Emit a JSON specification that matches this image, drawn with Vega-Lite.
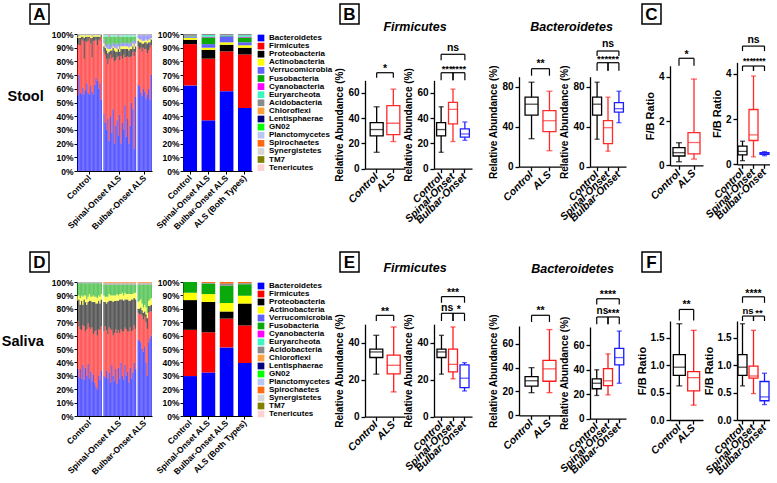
{
"$schema": "https://vega.github.io/schema/vega-lite/v6.json",
"padding": {"left": 0, "top": 3, "right": 0, "bottom": 0},
"background": "white",
"config": {
  "font": "Liberation Sans",
  "view": {"stroke": null},
  "axis": {"grid": false, "domainColor": "#000", "domainWidth": 1.3, "tickColor": "#000", "tickWidth": 1.3, "tickSize": 4, "labelColor": "#000", "labelFont": "Liberation Sans", "labelFontWeight": "bold", "labelFontSize": 10, "labelPadding": 2, "labelOverlap": false, "titleColor": "#000", "titleFont": "Liberation Sans", "titleFontWeight": "bold", "titleFontSize": 10, "titlePadding": 3},
  "axisX": {"labelAngle": -45, "labelAlign": "right", "labelBaseline": "middle", "labelFontStyle": "italic", "labelFontSize": 10.5},
  "title": {"font": "Liberation Sans", "fontSize": 12.5, "fontStyle": "italic", "fontWeight": "bold", "color": "#000", "anchor": "middle", "frame": "group"}
},
"datasets": {
  "stoolS": [
    {"id":"c1","Bacteroidetes":55,"Firmicutes":38,"Proteobacteria":4,"Actinobacteria":1,"Verrucomicrobia":0,"Fusobacteria":0,"Cyanobacteria":0,"Euryarcheota":0,"Acidobacteria":2},
    {"id":"c2","Bacteroidetes":70,"Firmicutes":22,"Proteobacteria":5,"Actinobacteria":1,"Verrucomicrobia":0,"Fusobacteria":0,"Cyanobacteria":0,"Euryarcheota":0,"Acidobacteria":2},
    {"id":"c3","Bacteroidetes":57,"Firmicutes":35,"Proteobacteria":5,"Actinobacteria":2,"Verrucomicrobia":0,"Fusobacteria":0,"Cyanobacteria":0,"Euryarcheota":0,"Acidobacteria":1},
    {"id":"c4","Bacteroidetes":56,"Firmicutes":40,"Proteobacteria":2,"Actinobacteria":1,"Verrucomicrobia":0,"Fusobacteria":0,"Cyanobacteria":0,"Euryarcheota":0,"Acidobacteria":1},
    {"id":"c5","Bacteroidetes":61,"Firmicutes":34,"Proteobacteria":3,"Actinobacteria":1,"Verrucomicrobia":0,"Fusobacteria":0,"Cyanobacteria":0,"Euryarcheota":0,"Acidobacteria":1},
    {"id":"c6","Bacteroidetes":56,"Firmicutes":26,"Proteobacteria":15,"Actinobacteria":2,"Verrucomicrobia":0,"Fusobacteria":0,"Cyanobacteria":0,"Euryarcheota":0,"Acidobacteria":1},
    {"id":"c7","Bacteroidetes":59,"Firmicutes":36,"Proteobacteria":3,"Actinobacteria":1,"Verrucomicrobia":0,"Fusobacteria":0,"Cyanobacteria":0,"Euryarcheota":0,"Acidobacteria":1},
    {"id":"c8","Bacteroidetes":64,"Firmicutes":30,"Proteobacteria":4,"Actinobacteria":1,"Verrucomicrobia":0,"Fusobacteria":0,"Cyanobacteria":0,"Euryarcheota":0,"Acidobacteria":1},
    {"id":"c9","Bacteroidetes":57,"Firmicutes":38,"Proteobacteria":3,"Actinobacteria":1,"Verrucomicrobia":0,"Fusobacteria":0,"Cyanobacteria":0,"Euryarcheota":0,"Acidobacteria":1},
    {"id":"c10","Bacteroidetes":56,"Firmicutes":41,"Proteobacteria":1,"Actinobacteria":1,"Verrucomicrobia":0,"Fusobacteria":0,"Cyanobacteria":0,"Euryarcheota":0,"Acidobacteria":1},
    {"id":"c11","Bacteroidetes":62,"Firmicutes":31,"Proteobacteria":4,"Actinobacteria":2,"Verrucomicrobia":0,"Fusobacteria":0,"Cyanobacteria":0,"Euryarcheota":0,"Acidobacteria":1},
    {"id":"c12","Bacteroidetes":58,"Firmicutes":25,"Proteobacteria":14,"Actinobacteria":1,"Verrucomicrobia":0,"Fusobacteria":0,"Cyanobacteria":0,"Euryarcheota":0,"Acidobacteria":2},
    {"id":"c13","Bacteroidetes":56,"Firmicutes":39,"Proteobacteria":3,"Actinobacteria":1,"Verrucomicrobia":0,"Fusobacteria":0,"Cyanobacteria":0,"Euryarcheota":0,"Acidobacteria":1},
    {"id":"c14","Bacteroidetes":63,"Firmicutes":32,"Proteobacteria":3,"Actinobacteria":1,"Verrucomicrobia":0,"Fusobacteria":0,"Cyanobacteria":0,"Euryarcheota":0,"Acidobacteria":1},
    {"id":"c15","Bacteroidetes":68,"Firmicutes":28,"Proteobacteria":2,"Actinobacteria":1,"Verrucomicrobia":0,"Fusobacteria":0,"Cyanobacteria":0,"Euryarcheota":0,"Acidobacteria":1},
    {"id":"c16","Bacteroidetes":66,"Firmicutes":26,"Proteobacteria":6,"Actinobacteria":1,"Verrucomicrobia":0,"Fusobacteria":0,"Cyanobacteria":0,"Euryarcheota":0,"Acidobacteria":1},
    {"id":"c17","Bacteroidetes":60,"Firmicutes":36,"Proteobacteria":2,"Actinobacteria":1,"Verrucomicrobia":0,"Fusobacteria":0,"Cyanobacteria":0,"Euryarcheota":0,"Acidobacteria":1},
    {"id":"c18","Bacteroidetes":64,"Firmicutes":31,"Proteobacteria":3,"Actinobacteria":1,"Verrucomicrobia":0,"Fusobacteria":0,"Cyanobacteria":0,"Euryarcheota":0,"Acidobacteria":1},
    {"id":"c19","Bacteroidetes":52,"Firmicutes":46,"Proteobacteria":1,"Actinobacteria":0,"Verrucomicrobia":0,"Fusobacteria":0,"Cyanobacteria":0,"Euryarcheota":0,"Acidobacteria":1},
    {"id":"s1","Bacteroidetes":42,"Firmicutes":45,"Proteobacteria":4,"Actinobacteria":2,"Verrucomicrobia":3,"Fusobacteria":2,"Cyanobacteria":0,"Euryarcheota":1,"Acidobacteria":1},
    {"id":"s2","Bacteroidetes":35,"Firmicutes":50,"Proteobacteria":5,"Actinobacteria":1,"Verrucomicrobia":2,"Fusobacteria":5,"Cyanobacteria":0,"Euryarcheota":1,"Acidobacteria":1},
    {"id":"s3","Bacteroidetes":30,"Firmicutes":52,"Proteobacteria":6,"Actinobacteria":2,"Verrucomicrobia":2,"Fusobacteria":6,"Cyanobacteria":0,"Euryarcheota":1,"Acidobacteria":1},
    {"id":"s4","Bacteroidetes":38,"Firmicutes":40,"Proteobacteria":8,"Actinobacteria":3,"Verrucomicrobia":3,"Fusobacteria":6,"Cyanobacteria":0,"Euryarcheota":1,"Acidobacteria":1},
    {"id":"s5","Bacteroidetes":22,"Firmicutes":60,"Proteobacteria":5,"Actinobacteria":2,"Verrucomicrobia":4,"Fusobacteria":5,"Cyanobacteria":1,"Euryarcheota":0,"Acidobacteria":1},
    {"id":"s6","Bacteroidetes":40,"Firmicutes":45,"Proteobacteria":3,"Actinobacteria":1,"Verrucomicrobia":2,"Fusobacteria":7,"Cyanobacteria":0,"Euryarcheota":1,"Acidobacteria":1},
    {"id":"s7","Bacteroidetes":28,"Firmicutes":54,"Proteobacteria":6,"Actinobacteria":2,"Verrucomicrobia":3,"Fusobacteria":5,"Cyanobacteria":0,"Euryarcheota":1,"Acidobacteria":1},
    {"id":"s8","Bacteroidetes":45,"Firmicutes":38,"Proteobacteria":7,"Actinobacteria":1,"Verrucomicrobia":2,"Fusobacteria":5,"Cyanobacteria":0,"Euryarcheota":1,"Acidobacteria":1},
    {"id":"s9","Bacteroidetes":20,"Firmicutes":60,"Proteobacteria":8,"Actinobacteria":2,"Verrucomicrobia":3,"Fusobacteria":5,"Cyanobacteria":0,"Euryarcheota":1,"Acidobacteria":1},
    {"id":"s10","Bacteroidetes":33,"Firmicutes":48,"Proteobacteria":6,"Actinobacteria":3,"Verrucomicrobia":2,"Fusobacteria":6,"Cyanobacteria":0,"Euryarcheota":1,"Acidobacteria":1},
    {"id":"s11","Bacteroidetes":37,"Firmicutes":46,"Proteobacteria":4,"Actinobacteria":2,"Verrucomicrobia":4,"Fusobacteria":5,"Cyanobacteria":0,"Euryarcheota":1,"Acidobacteria":1},
    {"id":"s12","Bacteroidetes":26,"Firmicutes":58,"Proteobacteria":5,"Actinobacteria":2,"Verrucomicrobia":2,"Fusobacteria":5,"Cyanobacteria":1,"Euryarcheota":0,"Acidobacteria":1},
    {"id":"s13","Bacteroidetes":41,"Firmicutes":40,"Proteobacteria":6,"Actinobacteria":2,"Verrucomicrobia":3,"Fusobacteria":6,"Cyanobacteria":0,"Euryarcheota":1,"Acidobacteria":1},
    {"id":"s14","Bacteroidetes":20,"Firmicutes":64,"Proteobacteria":5,"Actinobacteria":2,"Verrucomicrobia":2,"Fusobacteria":5,"Cyanobacteria":0,"Euryarcheota":1,"Acidobacteria":1},
    {"id":"s15","Bacteroidetes":35,"Firmicutes":47,"Proteobacteria":7,"Actinobacteria":2,"Verrucomicrobia":3,"Fusobacteria":4,"Cyanobacteria":0,"Euryarcheota":1,"Acidobacteria":1},
    {"id":"s16","Bacteroidetes":30,"Firmicutes":55,"Proteobacteria":4,"Actinobacteria":2,"Verrucomicrobia":2,"Fusobacteria":5,"Cyanobacteria":0,"Euryarcheota":1,"Acidobacteria":1},
    {"id":"s17","Bacteroidetes":48,"Firmicutes":35,"Proteobacteria":6,"Actinobacteria":2,"Verrucomicrobia":2,"Fusobacteria":5,"Cyanobacteria":0,"Euryarcheota":1,"Acidobacteria":1},
    {"id":"s18","Bacteroidetes":25,"Firmicutes":58,"Proteobacteria":6,"Actinobacteria":2,"Verrucomicrobia":3,"Fusobacteria":4,"Cyanobacteria":0,"Euryarcheota":1,"Acidobacteria":1},
    {"id":"s19","Bacteroidetes":38,"Firmicutes":46,"Proteobacteria":5,"Actinobacteria":2,"Verrucomicrobia":2,"Fusobacteria":5,"Cyanobacteria":0,"Euryarcheota":1,"Acidobacteria":1},
    {"id":"s20","Bacteroidetes":20,"Firmicutes":63,"Proteobacteria":5,"Actinobacteria":2,"Verrucomicrobia":3,"Fusobacteria":5,"Cyanobacteria":0,"Euryarcheota":1,"Acidobacteria":1},
    {"id":"s21","Bacteroidetes":33,"Firmicutes":50,"Proteobacteria":6,"Actinobacteria":2,"Verrucomicrobia":2,"Fusobacteria":5,"Cyanobacteria":0,"Euryarcheota":1,"Acidobacteria":1},
    {"id":"s22","Bacteroidetes":50,"Firmicutes":34,"Proteobacteria":5,"Actinobacteria":2,"Verrucomicrobia":3,"Fusobacteria":4,"Cyanobacteria":0,"Euryarcheota":1,"Acidobacteria":1},
    {"id":"s23","Bacteroidetes":45,"Firmicutes":42,"Proteobacteria":4,"Actinobacteria":2,"Verrucomicrobia":2,"Fusobacteria":3,"Cyanobacteria":0,"Euryarcheota":1,"Acidobacteria":1},
    {"id":"s24","Bacteroidetes":16,"Firmicutes":68,"Proteobacteria":5,"Actinobacteria":2,"Verrucomicrobia":3,"Fusobacteria":4,"Cyanobacteria":0,"Euryarcheota":1,"Acidobacteria":1},
    {"id":"s25","Bacteroidetes":54,"Firmicutes":33,"Proteobacteria":4,"Actinobacteria":2,"Verrucomicrobia":3,"Fusobacteria":2,"Cyanobacteria":0,"Euryarcheota":1,"Acidobacteria":1},
    {"id":"b1","Bacteroidetes":63,"Firmicutes":28,"Proteobacteria":4,"Actinobacteria":2,"Verrucomicrobia":2,"Fusobacteria":0,"Cyanobacteria":0,"Euryarcheota":0,"Acidobacteria":1},
    {"id":"b2","Bacteroidetes":62,"Firmicutes":27,"Proteobacteria":5,"Actinobacteria":2,"Verrucomicrobia":3,"Fusobacteria":0,"Cyanobacteria":0,"Euryarcheota":0,"Acidobacteria":1},
    {"id":"b3","Bacteroidetes":57,"Firmicutes":33,"Proteobacteria":4,"Actinobacteria":2,"Verrucomicrobia":3,"Fusobacteria":0,"Cyanobacteria":0,"Euryarcheota":0,"Acidobacteria":1},
    {"id":"b4","Bacteroidetes":55,"Firmicutes":32,"Proteobacteria":6,"Actinobacteria":2,"Verrucomicrobia":4,"Fusobacteria":0,"Cyanobacteria":0,"Euryarcheota":0,"Acidobacteria":1},
    {"id":"b5","Bacteroidetes":60,"Firmicutes":30,"Proteobacteria":3,"Actinobacteria":2,"Verrucomicrobia":4,"Fusobacteria":0,"Cyanobacteria":0,"Euryarcheota":0,"Acidobacteria":1},
    {"id":"b6","Bacteroidetes":58,"Firmicutes":31,"Proteobacteria":5,"Actinobacteria":1,"Verrucomicrobia":4,"Fusobacteria":0,"Cyanobacteria":0,"Euryarcheota":0,"Acidobacteria":1},
    {"id":"b7","Bacteroidetes":53,"Firmicutes":36,"Proteobacteria":5,"Actinobacteria":2,"Verrucomicrobia":3,"Fusobacteria":0,"Cyanobacteria":0,"Euryarcheota":0,"Acidobacteria":1},
    {"id":"b8","Bacteroidetes":56,"Firmicutes":30,"Proteobacteria":7,"Actinobacteria":2,"Verrucomicrobia":4,"Fusobacteria":0,"Cyanobacteria":0,"Euryarcheota":0,"Acidobacteria":1},
    {"id":"b9","Bacteroidetes":60,"Firmicutes":28,"Proteobacteria":6,"Actinobacteria":2,"Verrucomicrobia":3,"Fusobacteria":0,"Cyanobacteria":0,"Euryarcheota":0,"Acidobacteria":1},
    {"id":"b10","Bacteroidetes":52,"Firmicutes":38,"Proteobacteria":4,"Actinobacteria":2,"Verrucomicrobia":3,"Fusobacteria":0,"Cyanobacteria":0,"Euryarcheota":0,"Acidobacteria":1},
    {"id":"b11","Bacteroidetes":70,"Firmicutes":22,"Proteobacteria":4,"Actinobacteria":1,"Verrucomicrobia":2,"Fusobacteria":0,"Cyanobacteria":0,"Euryarcheota":0,"Acidobacteria":1}
  ],
  "salS": [
    {"id":"c1","Bacteroidetes":35,"Firmicutes":36,"Proteobacteria":15,"Actinobacteria":4,"Fusobacteria":9,"Spirochaetes":0,"Acidobacteria":1},
    {"id":"c2","Bacteroidetes":29,"Firmicutes":38,"Proteobacteria":20,"Actinobacteria":3,"Fusobacteria":9,"Spirochaetes":0,"Acidobacteria":1},
    {"id":"c3","Bacteroidetes":35,"Firmicutes":30,"Proteobacteria":18,"Actinobacteria":5,"Fusobacteria":11,"Spirochaetes":0,"Acidobacteria":1},
    {"id":"c4","Bacteroidetes":28,"Firmicutes":36,"Proteobacteria":22,"Actinobacteria":4,"Fusobacteria":9,"Spirochaetes":0,"Acidobacteria":1},
    {"id":"c5","Bacteroidetes":38,"Firmicutes":30,"Proteobacteria":15,"Actinobacteria":6,"Fusobacteria":10,"Spirochaetes":0,"Acidobacteria":1},
    {"id":"c6","Bacteroidetes":27,"Firmicutes":40,"Proteobacteria":20,"Actinobacteria":3,"Fusobacteria":9,"Spirochaetes":0,"Acidobacteria":1},
    {"id":"c7","Bacteroidetes":36,"Firmicutes":27,"Proteobacteria":22,"Actinobacteria":5,"Fusobacteria":9,"Spirochaetes":0,"Acidobacteria":1},
    {"id":"c8","Bacteroidetes":30,"Firmicutes":35,"Proteobacteria":18,"Actinobacteria":4,"Fusobacteria":12,"Spirochaetes":0,"Acidobacteria":1},
    {"id":"c9","Bacteroidetes":39,"Firmicutes":30,"Proteobacteria":16,"Actinobacteria":4,"Fusobacteria":10,"Spirochaetes":0,"Acidobacteria":1},
    {"id":"c10","Bacteroidetes":28,"Firmicutes":38,"Proteobacteria":20,"Actinobacteria":5,"Fusobacteria":8,"Spirochaetes":0,"Acidobacteria":1},
    {"id":"c11","Bacteroidetes":33,"Firmicutes":32,"Proteobacteria":21,"Actinobacteria":3,"Fusobacteria":10,"Spirochaetes":0,"Acidobacteria":1},
    {"id":"c12","Bacteroidetes":26,"Firmicutes":40,"Proteobacteria":19,"Actinobacteria":4,"Fusobacteria":10,"Spirochaetes":0,"Acidobacteria":1},
    {"id":"c13","Bacteroidetes":31,"Firmicutes":30,"Proteobacteria":24,"Actinobacteria":5,"Fusobacteria":9,"Spirochaetes":0,"Acidobacteria":1},
    {"id":"c14","Bacteroidetes":25,"Firmicutes":38,"Proteobacteria":22,"Actinobacteria":4,"Fusobacteria":10,"Spirochaetes":0,"Acidobacteria":1},
    {"id":"c15","Bacteroidetes":22,"Firmicutes":42,"Proteobacteria":20,"Actinobacteria":5,"Fusobacteria":10,"Spirochaetes":0,"Acidobacteria":1},
    {"id":"c16","Bacteroidetes":20,"Firmicutes":40,"Proteobacteria":24,"Actinobacteria":4,"Fusobacteria":11,"Spirochaetes":0,"Acidobacteria":1},
    {"id":"c17","Bacteroidetes":30,"Firmicutes":35,"Proteobacteria":21,"Actinobacteria":4,"Fusobacteria":9,"Spirochaetes":0,"Acidobacteria":1},
    {"id":"c18","Bacteroidetes":27,"Firmicutes":37,"Proteobacteria":20,"Actinobacteria":5,"Fusobacteria":10,"Spirochaetes":0,"Acidobacteria":1},
    {"id":"c19","Bacteroidetes":34,"Firmicutes":33,"Proteobacteria":20,"Actinobacteria":4,"Fusobacteria":8,"Spirochaetes":0,"Acidobacteria":1},
    {"id":"s1","Bacteroidetes":30,"Firmicutes":33,"Proteobacteria":22,"Actinobacteria":5,"Fusobacteria":8,"Spirochaetes":1,"Acidobacteria":1},
    {"id":"s2","Bacteroidetes":29,"Firmicutes":38,"Proteobacteria":18,"Actinobacteria":4,"Fusobacteria":9,"Spirochaetes":1,"Acidobacteria":1},
    {"id":"s3","Bacteroidetes":34,"Firmicutes":30,"Proteobacteria":20,"Actinobacteria":5,"Fusobacteria":9,"Spirochaetes":1,"Acidobacteria":1},
    {"id":"s4","Bacteroidetes":28,"Firmicutes":33,"Proteobacteria":24,"Actinobacteria":4,"Fusobacteria":9,"Spirochaetes":1,"Acidobacteria":1},
    {"id":"s5","Bacteroidetes":32,"Firmicutes":34,"Proteobacteria":20,"Actinobacteria":5,"Fusobacteria":7,"Spirochaetes":1,"Acidobacteria":1},
    {"id":"s6","Bacteroidetes":25,"Firmicutes":40,"Proteobacteria":21,"Actinobacteria":4,"Fusobacteria":8,"Spirochaetes":1,"Acidobacteria":1},
    {"id":"s7","Bacteroidetes":38,"Firmicutes":26,"Proteobacteria":22,"Actinobacteria":4,"Fusobacteria":8,"Spirochaetes":1,"Acidobacteria":1},
    {"id":"s8","Bacteroidetes":30,"Firmicutes":30,"Proteobacteria":25,"Actinobacteria":5,"Fusobacteria":8,"Spirochaetes":1,"Acidobacteria":1},
    {"id":"s9","Bacteroidetes":26,"Firmicutes":36,"Proteobacteria":24,"Actinobacteria":4,"Fusobacteria":8,"Spirochaetes":1,"Acidobacteria":1},
    {"id":"s10","Bacteroidetes":35,"Firmicutes":30,"Proteobacteria":21,"Actinobacteria":4,"Fusobacteria":8,"Spirochaetes":1,"Acidobacteria":1},
    {"id":"s11","Bacteroidetes":24,"Firmicutes":38,"Proteobacteria":24,"Actinobacteria":5,"Fusobacteria":7,"Spirochaetes":1,"Acidobacteria":1},
    {"id":"s12","Bacteroidetes":36,"Firmicutes":28,"Proteobacteria":22,"Actinobacteria":4,"Fusobacteria":8,"Spirochaetes":1,"Acidobacteria":1},
    {"id":"s13","Bacteroidetes":28,"Firmicutes":34,"Proteobacteria":25,"Actinobacteria":4,"Fusobacteria":7,"Spirochaetes":1,"Acidobacteria":1},
    {"id":"s14","Bacteroidetes":40,"Firmicutes":25,"Proteobacteria":22,"Actinobacteria":4,"Fusobacteria":7,"Spirochaetes":1,"Acidobacteria":1},
    {"id":"s15","Bacteroidetes":30,"Firmicutes":33,"Proteobacteria":24,"Actinobacteria":5,"Fusobacteria":6,"Spirochaetes":1,"Acidobacteria":1},
    {"id":"s16","Bacteroidetes":27,"Firmicutes":36,"Proteobacteria":23,"Actinobacteria":4,"Fusobacteria":8,"Spirochaetes":1,"Acidobacteria":1},
    {"id":"s17","Bacteroidetes":38,"Firmicutes":28,"Proteobacteria":21,"Actinobacteria":5,"Fusobacteria":6,"Spirochaetes":1,"Acidobacteria":1},
    {"id":"s18","Bacteroidetes":30,"Firmicutes":35,"Proteobacteria":22,"Actinobacteria":4,"Fusobacteria":7,"Spirochaetes":1,"Acidobacteria":1},
    {"id":"s19","Bacteroidetes":33,"Firmicutes":30,"Proteobacteria":24,"Actinobacteria":4,"Fusobacteria":7,"Spirochaetes":1,"Acidobacteria":1},
    {"id":"s20","Bacteroidetes":25,"Firmicutes":38,"Proteobacteria":23,"Actinobacteria":5,"Fusobacteria":7,"Spirochaetes":1,"Acidobacteria":1},
    {"id":"s21","Bacteroidetes":36,"Firmicutes":30,"Proteobacteria":20,"Actinobacteria":5,"Fusobacteria":7,"Spirochaetes":1,"Acidobacteria":1},
    {"id":"s22","Bacteroidetes":28,"Firmicutes":35,"Proteobacteria":24,"Actinobacteria":4,"Fusobacteria":7,"Spirochaetes":1,"Acidobacteria":1},
    {"id":"s23","Bacteroidetes":32,"Firmicutes":32,"Proteobacteria":23,"Actinobacteria":4,"Fusobacteria":7,"Spirochaetes":1,"Acidobacteria":1},
    {"id":"s24","Bacteroidetes":40,"Firmicutes":28,"Proteobacteria":20,"Actinobacteria":4,"Fusobacteria":6,"Spirochaetes":1,"Acidobacteria":1},
    {"id":"s25","Bacteroidetes":35,"Firmicutes":30,"Proteobacteria":22,"Actinobacteria":5,"Fusobacteria":6,"Spirochaetes":1,"Acidobacteria":1},
    {"id":"b1","Bacteroidetes":57,"Firmicutes":20,"Proteobacteria":3,"Actinobacteria":5,"Fusobacteria":13,"Spirochaetes":1,"Acidobacteria":1},
    {"id":"b2","Bacteroidetes":56,"Firmicutes":20,"Proteobacteria":4,"Actinobacteria":6,"Fusobacteria":12,"Spirochaetes":1,"Acidobacteria":1},
    {"id":"b3","Bacteroidetes":55,"Firmicutes":21,"Proteobacteria":5,"Actinobacteria":6,"Fusobacteria":11,"Spirochaetes":1,"Acidobacteria":1},
    {"id":"b4","Bacteroidetes":50,"Firmicutes":25,"Proteobacteria":4,"Actinobacteria":5,"Fusobacteria":14,"Spirochaetes":1,"Acidobacteria":1},
    {"id":"b5","Bacteroidetes":48,"Firmicutes":24,"Proteobacteria":5,"Actinobacteria":4,"Fusobacteria":17,"Spirochaetes":1,"Acidobacteria":1},
    {"id":"b6","Bacteroidetes":52,"Firmicutes":22,"Proteobacteria":4,"Actinobacteria":5,"Fusobacteria":15,"Spirochaetes":1,"Acidobacteria":1},
    {"id":"b7","Bacteroidetes":40,"Firmicutes":30,"Proteobacteria":6,"Actinobacteria":5,"Fusobacteria":17,"Spirochaetes":1,"Acidobacteria":1},
    {"id":"b8","Bacteroidetes":30,"Firmicutes":35,"Proteobacteria":8,"Actinobacteria":4,"Fusobacteria":21,"Spirochaetes":1,"Acidobacteria":1},
    {"id":"b9","Bacteroidetes":55,"Firmicutes":22,"Proteobacteria":5,"Actinobacteria":4,"Fusobacteria":12,"Spirochaetes":1,"Acidobacteria":1},
    {"id":"b10","Bacteroidetes":58,"Firmicutes":20,"Proteobacteria":4,"Actinobacteria":5,"Fusobacteria":11,"Spirochaetes":1,"Acidobacteria":1},
    {"id":"b11","Bacteroidetes":60,"Firmicutes":18,"Proteobacteria":5,"Actinobacteria":5,"Fusobacteria":10,"Spirochaetes":1,"Acidobacteria":1}
  ],
  "stoolG": [
    {"g":"Control","Bacteroidetes":62.5,"Firmicutes":30.1,"Proteobacteria":3.2,"Actinobacteria":1.5,"Verrucomicrobia":0.7,"Fusobacteria":0.3,"Cyanobacteria":0.1,"Euryarcheota":0.3,"Acidobacteria":1.3},
    {"g":"Spinal-Onset ALS","Bacteroidetes":37,"Firmicutes":45,"Proteobacteria":6.5,"Actinobacteria":1.5,"Verrucomicrobia":2.6,"Fusobacteria":4.9,"Cyanobacteria":0.5,"Euryarcheota":1.2,"Acidobacteria":0.8},
    {"g":"Bulbar-Onset ALS","Bacteroidetes":58.3,"Firmicutes":29,"Proteobacteria":4.9,"Actinobacteria":1.7,"Verrucomicrobia":4.4,"Fusobacteria":0.5,"Cyanobacteria":0.2,"Euryarcheota":0.3,"Acidobacteria":0.7},
    {"g":"ALS (Both Types)","Bacteroidetes":46,"Firmicutes":39,"Proteobacteria":5,"Actinobacteria":1.8,"Verrucomicrobia":2.2,"Fusobacteria":3.5,"Cyanobacteria":0.5,"Euryarcheota":1,"Acidobacteria":1}
  ],
  "salG": [
    {"g":"Control","Bacteroidetes":29.8,"Firmicutes":34.5,"Proteobacteria":22.2,"Actinobacteria":5.5,"Fusobacteria":8,"Spirochaetes":0,"Acidobacteria":0},
    {"g":"Spinal-Onset ALS","Bacteroidetes":32.5,"Firmicutes":30,"Proteobacteria":22.7,"Actinobacteria":5.8,"Fusobacteria":7.8,"Spirochaetes":0.7,"Acidobacteria":0.5},
    {"g":"Bulbar-Onset ALS","Bacteroidetes":51.2,"Firmicutes":21.5,"Proteobacteria":5.3,"Actinobacteria":6.3,"Fusobacteria":12.9,"Spirochaetes":1.3,"Acidobacteria":1.5},
    {"g":"ALS (Both Types)","Bacteroidetes":39.5,"Firmicutes":28,"Proteobacteria":16.5,"Actinobacteria":5.8,"Fusobacteria":8.5,"Spirochaetes":1,"Acidobacteria":0.7}
  ],
  "st": [
    {"p":"B1","g":"Control","min":13,"q1":26,"med":31,"q3":36.5,"max":49},
    {"p":"B1","g":"ALS","min":21.5,"q1":27,"med":36,"q3":50,"max":63},
    {"p":"B2","g":"Control","min":13,"q1":26,"med":31,"q3":36.5,"max":49},
    {"p":"B2","g":"Spinal-Onset","min":21.5,"q1":35.5,"med":47,"q3":52.5,"max":63},
    {"p":"B2","g":"Bulbar-Onset","min":22.5,"q1":25,"med":27.5,"q3":31.5,"max":37},
    {"p":"B3","g":"Control","min":28,"q1":51.5,"med":62.5,"q3":69.5,"max":84.5},
    {"p":"B3","g":"ALS","min":16,"q1":35,"med":46,"q3":56,"max":75.5},
    {"p":"B4","g":"Control","min":27.5,"q1":51.5,"med":62.5,"q3":69.5,"max":84.5},
    {"p":"B4","g":"Spinal-Onset","min":15.5,"q1":23,"med":39,"q3":46,"max":69.5},
    {"p":"B4","g":"Bulbar-Onset","min":44,"q1":54.5,"med":58,"q3":64,"max":75.5},
    {"p":"C1","g":"Control","min":0.16,"q1":0.42,"med":0.57,"q3":0.8,"max":1.02},
    {"p":"C1","g":"ALS","min":0.28,"q1":0.52,"med":1.03,"q3":1.48,"max":3.9},
    {"p":"C2","g":"Control","min":0.16,"q1":0.42,"med":0.57,"q3":0.8,"max":1.02},
    {"p":"C2","g":"Spinal-Onset","min":0.33,"q1":1.05,"med":1.3,"q3":2.42,"max":3.9},
    {"p":"C2","g":"Bulbar-Onset","min":0.38,"q1":0.44,"med":0.47,"q3":0.51,"max":0.56},
    {"p":"E1","g":"Control","min":23,"q1":32,"med":35,"q3":36.5,"max":44},
    {"p":"E1","g":"ALS","min":13.4,"q1":23.2,"med":27.8,"q3":33.3,"max":48.5},
    {"p":"E2","g":"Control","min":23,"q1":32,"med":35,"q3":36.5,"max":44},
    {"p":"E2","g":"Spinal-Onset","min":20.5,"q1":24.2,"med":28.3,"q3":36.5,"max":48.5},
    {"p":"E2","g":"Bulbar-Onset","min":13.9,"q1":15.7,"med":20.8,"q3":28,"max":29.2},
    {"p":"E3","g":"Control","min":19,"q1":24.5,"med":29,"q3":32.5,"max":40},
    {"p":"E3","g":"ALS","min":19,"q1":28.6,"med":39,"q3":46.2,"max":72},
    {"p":"E4","g":"Control","min":19,"q1":24.5,"med":29,"q3":32.5,"max":40},
    {"p":"E4","g":"Spinal-Onset","min":19.5,"q1":27,"med":31,"q3":41,"max":53},
    {"p":"E4","g":"Bulbar-Onset","min":29,"q1":44,"med":50,"q3":57.5,"max":71.7},
    {"p":"F1","g":"Control","min":0.62,"q1":0.81,"med":0.96,"q3":1.19,"max":1.75},
    {"p":"F1","g":"ALS","min":0.27,"q1":0.53,"med":0.77,"q3":0.88,"max":1.63},
    {"p":"F2","g":"Control","min":0.62,"q1":0.81,"med":0.96,"q3":1.19,"max":1.75},
    {"p":"F2","g":"Spinal-Onset","min":0.48,"q1":0.76,"med":0.8,"q3":0.98,"max":1.63},
    {"p":"F2","g":"Bulbar-Onset","min":0.28,"q1":0.35,"med":0.42,"q3":0.7,"max":0.85},
    {"p":"B1","g1":"Control","g2":"ALS","y":76,"leg":72,"ty":79.3,"t":"*"},
    {"p":"B2","g1":"Control","g2":"Spinal-Onset","y":76,"leg":70,"ty":78.6,"t":"***"},
    {"p":"B2","g1":"Spinal-Onset","g2":"Bulbar-Onset","y":76,"leg":70,"ty":78.6,"t":"****"},
    {"p":"B2","g1":"Control","g2":"Bulbar-Onset","mid":"Spinal-Onset","y":90.6,"leg":85.8,"ty":95.8,"t":"ns"},
    {"p":"B3","g1":"Control","g2":"ALS","y":98,"leg":91,"ty":102.5,"t":"**"},
    {"p":"B4","g1":"Control","g2":"Spinal-Onset","y":104,"leg":96,"ty":108.2,"t":"***"},
    {"p":"B4","g1":"Spinal-Onset","g2":"Bulbar-Onset","y":104,"leg":96,"ty":108.2,"t":"***"},
    {"p":"B4","g1":"Control","g2":"Bulbar-Onset","mid":"Spinal-Onset","y":115.7,"leg":110.7,"ty":123,"t":"ns"},
    {"p":"C1","g1":"Control","g2":"ALS","y":4.84,"leg":4.5,"ty":4.98,"t":"*"},
    {"p":"C2","g1":"Control","g2":"Spinal-Onset","y":4.34,"leg":4.12,"ty":4.57,"t":"***"},
    {"p":"C2","g1":"Spinal-Onset","g2":"Bulbar-Onset","y":4.34,"leg":4.12,"ty":4.57,"t":"****"},
    {"p":"C2","g1":"Control","g2":"Bulbar-Onset","mid":"Spinal-Onset","y":5.22,"leg":5.0,"ty":5.47,"t":"ns"},
    {"p":"E1","g1":"Control","g2":"ALS","y":54.8,"leg":51.7,"ty":56.7,"t":"**"},
    {"p":"E2","g1":"Control","g2":"Spinal-Onset","y":55.9,"leg":51.7,"ty":58.9,"t":"ns"},
    {"p":"E2","g1":"Spinal-Onset","g2":"Bulbar-Onset","y":55.9,"leg":51.7,"ty":57.6,"t":"*"},
    {"p":"E2","g1":"Control","g2":"Bulbar-Onset","mid":"Spinal-Onset","y":64.9,"leg":61.6,"ty":66.6,"t":"***"},
    {"p":"E3","g1":"Control","g2":"ALS","y":84,"leg":78.4,"ty":87.5,"t":"**"},
    {"p":"E4","g1":"Control","g2":"Spinal-Onset","y":83.2,"leg":77.2,"ty":88,"t":"ns"},
    {"p":"E4","g1":"Spinal-Onset","g2":"Bulbar-Onset","y":83.2,"leg":77.2,"ty":86,"t":"***"},
    {"p":"E4","g1":"Control","g2":"Bulbar-Onset","mid":"Spinal-Onset","y":98.1,"leg":93.5,"ty":101,"t":"****"},
    {"p":"F1","g1":"Control","g2":"ALS","y":2.01,"leg":1.81,"ty":2.1,"t":"**"},
    {"p":"F2","g1":"Control","g2":"Spinal-Onset","y":1.89,"leg":1.8,"ty":1.98,"t":"ns"},
    {"p":"F2","g1":"Spinal-Onset","g2":"Bulbar-Onset","y":1.89,"leg":1.8,"ty":1.94,"t":"**"},
    {"p":"F2","g1":"Control","g2":"Bulbar-Onset","mid":"Spinal-Onset","y":2.24,"leg":2.13,"ty":2.29,"t":"****"}
  ]
},
"columns": 19,
"bounds": "flush",
"spacing": {"row": 10, "column": 0},
"resolve": {"scale": {"color": "independent"}},
"concat": [
  {"width":30,"height":20,"data":{"values":[]},"mark":"text","encoding":{}},
  {"width":19,"height":20,"view":{"stroke":"#000","strokeWidth":1.5},"data":{"values":[{}]},"mark":{"type":"text","text":"A","fontSize":17,"fontWeight":"bold","font":"Liberation Sans","align":"center","baseline":"middle","dy":1},"encoding":{}},
  {"width":75,"height":20,"data":{"values":[]},"mark":"text","encoding":{}},
  {"width":31,"height":20,"data":{"values":[]},"mark":"text","encoding":{}},
  {"width":69,"height":20,"data":{"values":[]},"mark":"text","encoding":{}},
  {"width":88,"height":20,"data":{"values":[]},"mark":"text","encoding":{}},
  {"width":19,"height":20,"view":{"stroke":"#000","strokeWidth":1.5},"data":{"values":[{}]},"mark":{"type":"text","text":"B","fontSize":17,"fontWeight":"bold","font":"Liberation Sans","align":"center","baseline":"middle","dy":1},"encoding":{}},
  {"width":40,"height":20,"data":{"values":[]},"mark":"text","encoding":{}},
  {"width":29,"height":20,"data":{"values":[]},"mark":"text","encoding":{}},
  {"width":38,"height":20,"data":{"values":[]},"mark":"text","encoding":{}},
  {"width":47,"height":20,"data":{"values":[]},"mark":"text","encoding":{}},
  {"width":43,"height":20,"data":{"values":[]},"mark":"text","encoding":{}},
  {"width":28,"height":20,"data":{"values":[]},"mark":"text","encoding":{}},
  {"width":36,"height":20,"data":{"values":[]},"mark":"text","encoding":{}},
  {"width":16,"height":20,"data":{"values":[]},"mark":"text","encoding":{}},
  {"width":19,"height":20,"view":{"stroke":"#000","strokeWidth":1.5},"data":{"values":[{}]},"mark":{"type":"text","text":"C","fontSize":17,"fontWeight":"bold","font":"Liberation Sans","align":"center","baseline":"middle","dy":1},"encoding":{}},
  {"width":33,"height":20,"data":{"values":[]},"mark":"text","encoding":{}},
  {"width":34,"height":20,"data":{"values":[]},"mark":"text","encoding":{}},
  {"width":33,"height":20,"data":{"values":[]},"mark":"text","encoding":{}},

  {"width":30,"height":208,"data":{"values":[]},"mark":"text","encoding":{}},
  {"width":47,"height":10,"data":{"values":[]},"mark":"text","encoding":{}},
  {"width":75,"height":137,"data":{"name":"stoolS"},
   "transform":[{"fold":["Bacteroidetes","Firmicutes","Proteobacteria","Actinobacteria","Verrucomicrobia","Fusobacteria","Cyanobacteria","Euryarcheota","Acidobacteria"],"as":["phylum","pct"]},
     {"calculate":"indexof(['Bacteroidetes','Firmicutes','Proteobacteria','Actinobacteria','Verrucomicrobia','Fusobacteria','Cyanobacteria','Euryarcheota','Acidobacteria','Chloroflexi','Lentisphaerae','GN02','Planctomycetes','Spirochaetes','Synergistetes','TM7','Tenericutes'], datum.phylum)","as":"rk"}],
   "mark":{"type":"bar","opacity":0.65},
   "encoding":{
     "x":{"field":"id","type":"nominal","scale":{"domain":["c1","c2","c3","c4","c5","c6","c7","c8","c9","c10","c11","c12","c13","c14","c15","c16","c17","c18","c19","g1","s1","s2","s3","s4","s5","s6","s7","s8","s9","s10","s11","s12","s13","s14","s15","s16","s17","s18","s19","s20","s21","s22","s23","s24","s25","g2","b1","b2","b3","b4","b5","b6","b7","b8","b9","b10","b11"],"paddingInner":0,"paddingOuter":0},
       "axis":{"title":null,"values":["c10","s13","b6"],"labelExpr":"datum.value=='c10'?'Control':datum.value=='s13'?'Spinal-Onset ALS':'Bulbar-Onset ALS'","labelFontStyle":"normal","labelFontSize":8.5,"tickSize":3,"domainWidth":1,"tickWidth":1}},
     "y":{"field":"pct","type":"quantitative","stack":"normalize","scale":{"domain":[0,1],"nice":false},
       "axis":{"values":[0,0.1,0.2,0.3,0.4,0.5,0.6,0.7,0.8,0.9,1],"format":".0%","labelFontSize":8.5,"tickSize":3,"domainWidth":1,"tickWidth":1,"labelPadding":1,"title":"Stool","titleAngle":0,"titleAlign":"right","titleBaseline":"middle","titleFontSize":14.5,"titlePadding":8,"titleY":62}},
     "color":{"field":"phylum","type":"nominal","scale":{"domain":["Bacteroidetes","Firmicutes","Proteobacteria","Actinobacteria","Verrucomicrobia","Fusobacteria","Cyanobacteria","Euryarcheota","Acidobacteria","Chloroflexi","Lentisphaerae","GN02","Planctomycetes","Spirochaetes","Synergistetes","TM7","Tenericutes"],"range":["#0000ff","#ff0000","#000000","#ffff00","#6262ff","#0aaa0a","#ff00ff","#3cf5c0","#8a8a8a","#ffa040","#000080","#00ff00","#b8c6f4","#ff6a10","#d6d6d6","#808000","#ffd2d2"]},"legend":null},
     "order":{"field":"rk","type":"quantitative"}
   }},
  {"width":31,"height":10,"data":{"values":[]},"mark":"text","encoding":{}},
  {"width":69,"height":137,"data":{"name":"stoolG"},
   "transform":[{"fold":["Bacteroidetes","Firmicutes","Proteobacteria","Actinobacteria","Verrucomicrobia","Fusobacteria","Cyanobacteria","Euryarcheota","Acidobacteria"],"as":["phylum","pct"]},
     {"calculate":"indexof(['Bacteroidetes','Firmicutes','Proteobacteria','Actinobacteria','Verrucomicrobia','Fusobacteria','Cyanobacteria','Euryarcheota','Acidobacteria','Chloroflexi','Lentisphaerae','GN02','Planctomycetes','Spirochaetes','Synergistetes','TM7','Tenericutes'], datum.phylum)","as":"rk"}],
   "mark":{"type":"bar"},
   "encoding":{
     "x":{"field":"g","type":"nominal","scale":{"domain":["Control","Spinal-Onset ALS","Bulbar-Onset ALS","ALS (Both Types)"],"paddingInner":0.25,"paddingOuter":0.02},
       "axis":{"title":null,"labelFontStyle":"normal","labelFontSize":8.5,"tickSize":3,"domainWidth":1,"tickWidth":1}},
     "y":{"field":"pct","type":"quantitative","stack":"normalize","scale":{"domain":[0,1],"nice":false},
       "axis":{"values":[0,0.1,0.2,0.3,0.4,0.5,0.6,0.7,0.8,0.9,1],"format":".0%","labelFontSize":8.5,"tickSize":3,"domainWidth":1,"tickWidth":1,"labelPadding":1,"title":null}},
     "color":{"field":"phylum","type":"nominal","scale":{"domain":["Bacteroidetes","Firmicutes","Proteobacteria","Actinobacteria","Verrucomicrobia","Fusobacteria","Cyanobacteria","Euryarcheota","Acidobacteria","Chloroflexi","Lentisphaerae","GN02","Planctomycetes","Spirochaetes","Synergistetes","TM7","Tenericutes"],"range":["#0000ff","#ff0000","#000000","#ffff00","#6262ff","#0aaa0a","#ff00ff","#3cf5c0","#8a8a8a","#ffa040","#000080","#00ff00","#b8c6f4","#ff6a10","#d6d6d6","#808000","#ffd2d2"]},
       "legend":{"orient":"right","offset":5,"padding":0,"title":null,"symbolType":"square","symbolSize":45,"symbolStrokeWidth":0,"labelFont":"Liberation Sans","labelFontSize":8,"labelFontWeight":"bold","labelColor":"#000","rowPadding":0.1,"labelOffset":4,"labelLimit":150}},
     "order":{"field":"rk","type":"quantitative"}
   }},
  {"width":88,"height":10,"data":{"values":[]},"mark":"text","encoding":{}},
  {"width":25,"height":10,"data":{"values":[]},"mark":"text","encoding":{}},
  {"width":40,"height":134.7,"title":{"text":"Firmicutes","dx":30,"offset":1},"data":{"name":"st"},"transform":[{"filter":"datum.p=='B1'"}],
   "layer":[
    {"mark":{"type":"rule","strokeWidth":1.3},"encoding":{
      "x":{"field":"g","type":"nominal","scale":{"domain":["Control","ALS"],"paddingInner":0,"paddingOuter":0.2},"axis":{"title":null}},
      "y":{"field":"min","type":"quantitative","scale":{"domain":[0,70],"range":[134.7,46.3],"nice":false,"zero":false},"axis":{"values":[0,20,40,60],"title":"Relative Abundance (%)"}},
      "y2":{"field":"max"},
      "color":{"field":"g","type":"nominal","scale":{"domain":["Control","ALS","Spinal-Onset","Bulbar-Onset"],"range":["#000000","#ff2a2a","#ff2a2a","#1f1fff"]},"legend":null}}},
    {"mark":{"type":"bar","filled":false,"fill":"#fff","size":13,"strokeWidth":1.3},"encoding":{"x":{"field":"g","type":"nominal"},"y":{"field":"q1","type":"quantitative"},"y2":{"field":"q3"},"color":{"field":"g","type":"nominal","legend":null}}},
    {"mark":{"type":"tick","size":13,"thickness":1.3},"encoding":{"x":{"field":"g","type":"nominal"},"y":{"field":"med","type":"quantitative"},"color":{"field":"g","type":"nominal","legend":null}}},
    {"transform":[{"fold":["min","max"],"as":["k","v"]}],"mark":{"type":"tick","size":6,"thickness":1.3},"encoding":{"x":{"field":"g","type":"nominal"},"y":{"field":"v","type":"quantitative"},"color":{"field":"g","type":"nominal","legend":null}}},
    {"mark":{"type":"rule","strokeWidth":1.2,"color":"#000"},"encoding":{"x":{"field":"g1","type":"nominal"},"x2":{"field":"g2"},"y":{"field":"y","type":"quantitative"}}},
    {"transform":[{"filter":"datum.g1"},{"fold":["g1","g2"],"as":["e","gx"]}],"mark":{"type":"rule","strokeWidth":1.2,"color":"#000"},"encoding":{"x":{"field":"gx","type":"nominal"},"y":{"field":"leg","type":"quantitative"},"y2":{"field":"y"}}},
    {"transform":[{"filter":"datum.t && !datum.mid"}],"mark":{"type":"text","fontSize":10.5,"fontWeight":"bold","baseline":"middle"},"encoding":{"x":{"field":"g2","type":"nominal","bandPosition":0},"y":{"field":"ty","type":"quantitative"},"text":{"field":"t"}}},
    {"transform":[{"filter":"datum.t && datum.mid"}],"mark":{"type":"text","fontSize":10.5,"fontWeight":"bold","baseline":"middle"},"encoding":{"x":{"field":"mid","type":"nominal"},"y":{"field":"ty","type":"quantitative"},"text":{"field":"t"}}}
   ]},
  {"width":29,"height":10,"data":{"values":[]},"mark":"text","encoding":{}},
  {"width":38,"height":134.7,"data":{"name":"st"},"transform":[{"filter":"datum.p=='B2'"}],
   "layer":[
    {"mark":{"type":"rule","strokeWidth":1.3},"encoding":{
      "x":{"field":"g","type":"nominal","scale":{"domain":["Control","Spinal-Onset","Bulbar-Onset"],"paddingInner":0,"paddingOuter":0.1},"axis":{"title":null}},
      "y":{"field":"min","type":"quantitative","scale":{"domain":[0,70],"range":[134.7,46.3],"nice":false,"zero":false},"axis":{"values":[0,20,40,60],"title":"Relative Abundance (%)"}},
      "y2":{"field":"max"},
      "color":{"field":"g","type":"nominal","scale":{"domain":["Control","ALS","Spinal-Onset","Bulbar-Onset"],"range":["#000000","#ff2a2a","#ff2a2a","#1f1fff"]},"legend":null}}},
    {"mark":{"type":"bar","filled":false,"fill":"#fff","size":9,"strokeWidth":1.3},"encoding":{"x":{"field":"g","type":"nominal"},"y":{"field":"q1","type":"quantitative"},"y2":{"field":"q3"},"color":{"field":"g","type":"nominal","legend":null}}},
    {"mark":{"type":"tick","size":9,"thickness":1.3},"encoding":{"x":{"field":"g","type":"nominal"},"y":{"field":"med","type":"quantitative"},"color":{"field":"g","type":"nominal","legend":null}}},
    {"transform":[{"fold":["min","max"],"as":["k","v"]}],"mark":{"type":"tick","size":5,"thickness":1.3},"encoding":{"x":{"field":"g","type":"nominal"},"y":{"field":"v","type":"quantitative"},"color":{"field":"g","type":"nominal","legend":null}}},
    {"mark":{"type":"rule","strokeWidth":1.2,"color":"#000"},"encoding":{"x":{"field":"g1","type":"nominal"},"x2":{"field":"g2"},"y":{"field":"y","type":"quantitative"}}},
    {"transform":[{"filter":"datum.g1"},{"fold":["g1","g2"],"as":["e","gx"]}],"mark":{"type":"rule","strokeWidth":1.2,"color":"#000"},"encoding":{"x":{"field":"gx","type":"nominal"},"y":{"field":"leg","type":"quantitative"},"y2":{"field":"y"}}},
    {"transform":[{"filter":"datum.t && !datum.mid"}],"mark":{"type":"text","fontSize":9.3,"fontWeight":"bold","baseline":"middle"},"encoding":{"x":{"field":"g2","type":"nominal","bandPosition":0},"y":{"field":"ty","type":"quantitative"},"text":{"field":"t"}}},
    {"transform":[{"filter":"datum.t && datum.mid"}],"mark":{"type":"text","fontSize":10.5,"fontWeight":"bold","baseline":"middle"},"encoding":{"x":{"field":"mid","type":"nominal"},"y":{"field":"ty","type":"quantitative"},"text":{"field":"t"}}}
   ]},
  {"width":47,"height":10,"data":{"values":[]},"mark":"text","encoding":{}},
  {"width":43,"height":132.7,"title":{"text":"Bacteroidetes","dx":31,"offset":1},"data":{"name":"st"},"transform":[{"filter":"datum.p=='B3'"}],
   "layer":[
    {"mark":{"type":"rule","strokeWidth":1.3},"encoding":{
      "x":{"field":"g","type":"nominal","scale":{"domain":["Control","ALS"],"paddingInner":0,"paddingOuter":0.2},"axis":{"title":null}},
      "y":{"field":"min","type":"quantitative","scale":{"domain":[0,90],"range":[132.7,42.7],"nice":false,"zero":false},"axis":{"values":[0,20,40,60,80],"title":"Relative Abundance (%)"}},
      "y2":{"field":"max"},
      "color":{"field":"g","type":"nominal","scale":{"domain":["Control","ALS","Spinal-Onset","Bulbar-Onset"],"range":["#000000","#ff2a2a","#ff2a2a","#1f1fff"]},"legend":null}}},
    {"mark":{"type":"bar","filled":false,"fill":"#fff","size":13,"strokeWidth":1.3},"encoding":{"x":{"field":"g","type":"nominal"},"y":{"field":"q1","type":"quantitative"},"y2":{"field":"q3"},"color":{"field":"g","type":"nominal","legend":null}}},
    {"mark":{"type":"tick","size":13,"thickness":1.3},"encoding":{"x":{"field":"g","type":"nominal"},"y":{"field":"med","type":"quantitative"},"color":{"field":"g","type":"nominal","legend":null}}},
    {"transform":[{"fold":["min","max"],"as":["k","v"]}],"mark":{"type":"tick","size":6,"thickness":1.3},"encoding":{"x":{"field":"g","type":"nominal"},"y":{"field":"v","type":"quantitative"},"color":{"field":"g","type":"nominal","legend":null}}},
    {"mark":{"type":"rule","strokeWidth":1.2,"color":"#000"},"encoding":{"x":{"field":"g1","type":"nominal"},"x2":{"field":"g2"},"y":{"field":"y","type":"quantitative"}}},
    {"transform":[{"filter":"datum.g1"},{"fold":["g1","g2"],"as":["e","gx"]}],"mark":{"type":"rule","strokeWidth":1.2,"color":"#000"},"encoding":{"x":{"field":"gx","type":"nominal"},"y":{"field":"leg","type":"quantitative"},"y2":{"field":"y"}}},
    {"transform":[{"filter":"datum.t && !datum.mid"}],"mark":{"type":"text","fontSize":10.5,"fontWeight":"bold","baseline":"middle"},"encoding":{"x":{"field":"g2","type":"nominal","bandPosition":0},"y":{"field":"ty","type":"quantitative"},"text":{"field":"t"}}},
    {"transform":[{"filter":"datum.t && datum.mid"}],"mark":{"type":"text","fontSize":10.5,"fontWeight":"bold","baseline":"middle"},"encoding":{"x":{"field":"mid","type":"nominal"},"y":{"field":"ty","type":"quantitative"},"text":{"field":"t"}}}
   ]},
  {"width":28,"height":10,"data":{"values":[]},"mark":"text","encoding":{}},
  {"width":36,"height":132.7,"data":{"name":"st"},"transform":[{"filter":"datum.p=='B4'"}],
   "layer":[
    {"mark":{"type":"rule","strokeWidth":1.3},"encoding":{
      "x":{"field":"g","type":"nominal","scale":{"domain":["Control","Spinal-Onset","Bulbar-Onset"],"paddingInner":0,"paddingOuter":0.15},"axis":{"title":null}},
      "y":{"field":"min","type":"quantitative","scale":{"domain":[0,90],"range":[132.7,42.7],"nice":false,"zero":false},"axis":{"values":[0,20,40,60,80],"title":"Relative Abundance (%)"}},
      "y2":{"field":"max"},
      "color":{"field":"g","type":"nominal","scale":{"domain":["Control","ALS","Spinal-Onset","Bulbar-Onset"],"range":["#000000","#ff2a2a","#ff2a2a","#1f1fff"]},"legend":null}}},
    {"mark":{"type":"bar","filled":false,"fill":"#fff","size":9,"strokeWidth":1.3},"encoding":{"x":{"field":"g","type":"nominal"},"y":{"field":"q1","type":"quantitative"},"y2":{"field":"q3"},"color":{"field":"g","type":"nominal","legend":null}}},
    {"mark":{"type":"tick","size":9,"thickness":1.3},"encoding":{"x":{"field":"g","type":"nominal"},"y":{"field":"med","type":"quantitative"},"color":{"field":"g","type":"nominal","legend":null}}},
    {"transform":[{"fold":["min","max"],"as":["k","v"]}],"mark":{"type":"tick","size":5,"thickness":1.3},"encoding":{"x":{"field":"g","type":"nominal"},"y":{"field":"v","type":"quantitative"},"color":{"field":"g","type":"nominal","legend":null}}},
    {"mark":{"type":"rule","strokeWidth":1.2,"color":"#000"},"encoding":{"x":{"field":"g1","type":"nominal"},"x2":{"field":"g2"},"y":{"field":"y","type":"quantitative"}}},
    {"transform":[{"filter":"datum.g1"},{"fold":["g1","g2"],"as":["e","gx"]}],"mark":{"type":"rule","strokeWidth":1.2,"color":"#000"},"encoding":{"x":{"field":"gx","type":"nominal"},"y":{"field":"leg","type":"quantitative"},"y2":{"field":"y"}}},
    {"transform":[{"filter":"datum.t && !datum.mid"}],"mark":{"type":"text","fontSize":9.5,"fontWeight":"bold","baseline":"middle"},"encoding":{"x":{"field":"g2","type":"nominal","bandPosition":0},"y":{"field":"ty","type":"quantitative"},"text":{"field":"t"}}},
    {"transform":[{"filter":"datum.t && datum.mid"}],"mark":{"type":"text","fontSize":10.5,"fontWeight":"bold","baseline":"middle"},"encoding":{"x":{"field":"mid","type":"nominal"},"y":{"field":"ty","type":"quantitative"},"text":{"field":"t"}}}
   ]},
  {"width":16,"height":10,"data":{"values":[]},"mark":"text","encoding":{}},
  {"width":28,"height":10,"data":{"values":[]},"mark":"text","encoding":{}},
  {"width":33,"height":131.3,"data":{"name":"st"},"transform":[{"filter":"datum.p=='C1'"}],
   "layer":[
    {"mark":{"type":"rule","strokeWidth":1.3},"encoding":{
      "x":{"field":"g","type":"nominal","scale":{"domain":["Control","ALS"],"paddingInner":0,"paddingOuter":0.1},"axis":{"title":null}},
      "y":{"field":"min","type":"quantitative","scale":{"domain":[0,4.5],"range":[131.3,31.8],"nice":false,"zero":false},"axis":{"values":[0,1,2,3,4],"title":"F/B Ratio","titleFontSize":11}},
      "y2":{"field":"max"},
      "color":{"field":"g","type":"nominal","scale":{"domain":["Control","ALS","Spinal-Onset","Bulbar-Onset"],"range":["#000000","#ff2a2a","#ff2a2a","#1f1fff"]},"legend":null}}},
    {"mark":{"type":"bar","filled":false,"fill":"#fff","size":12,"strokeWidth":1.3},"encoding":{"x":{"field":"g","type":"nominal"},"y":{"field":"q1","type":"quantitative"},"y2":{"field":"q3"},"color":{"field":"g","type":"nominal","legend":null}}},
    {"mark":{"type":"tick","size":12,"thickness":1.3},"encoding":{"x":{"field":"g","type":"nominal"},"y":{"field":"med","type":"quantitative"},"color":{"field":"g","type":"nominal","legend":null}}},
    {"transform":[{"fold":["min","max"],"as":["k","v"]}],"mark":{"type":"tick","size":6,"thickness":1.3},"encoding":{"x":{"field":"g","type":"nominal"},"y":{"field":"v","type":"quantitative"},"color":{"field":"g","type":"nominal","legend":null}}},
    {"mark":{"type":"rule","strokeWidth":1.2,"color":"#000"},"encoding":{"x":{"field":"g1","type":"nominal"},"x2":{"field":"g2"},"y":{"field":"y","type":"quantitative"}}},
    {"transform":[{"filter":"datum.g1"},{"fold":["g1","g2"],"as":["e","gx"]}],"mark":{"type":"rule","strokeWidth":1.2,"color":"#000"},"encoding":{"x":{"field":"gx","type":"nominal"},"y":{"field":"leg","type":"quantitative"},"y2":{"field":"y"}}},
    {"transform":[{"filter":"datum.t && !datum.mid"}],"mark":{"type":"text","fontSize":10.5,"fontWeight":"bold","baseline":"middle"},"encoding":{"x":{"field":"g2","type":"nominal","bandPosition":0},"y":{"field":"ty","type":"quantitative"},"text":{"field":"t"}}},
    {"transform":[{"filter":"datum.t && datum.mid"}],"mark":{"type":"text","fontSize":10.5,"fontWeight":"bold","baseline":"middle"},"encoding":{"x":{"field":"mid","type":"nominal"},"y":{"field":"ty","type":"quantitative"},"text":{"field":"t"}}}
   ]},
  {"width":34,"height":10,"data":{"values":[]},"mark":"text","encoding":{}},
  {"width":33,"height":130.3,"data":{"name":"st"},"transform":[{"filter":"datum.p=='C2'"}],
   "layer":[
    {"mark":{"type":"rule","strokeWidth":1.3},"encoding":{
      "x":{"field":"g","type":"nominal","scale":{"domain":["Control","Spinal-Onset","Bulbar-Onset"],"paddingInner":0,"paddingOuter":0},"axis":{"title":null}},
      "y":{"field":"min","type":"quantitative","scale":{"domain":[0,4.5],"range":[130.3,28.4],"nice":false,"zero":false},"axis":{"values":[0,1,2,3,4],"title":"F/B Ratio","titleFontSize":11}},
      "y2":{"field":"max"},
      "color":{"field":"g","type":"nominal","scale":{"domain":["Control","ALS","Spinal-Onset","Bulbar-Onset"],"range":["#000000","#ff2a2a","#ff2a2a","#1f1fff"]},"legend":null}}},
    {"mark":{"type":"bar","filled":false,"fill":"#fff","size":9,"strokeWidth":1.3},"encoding":{"x":{"field":"g","type":"nominal"},"y":{"field":"q1","type":"quantitative"},"y2":{"field":"q3"},"color":{"field":"g","type":"nominal","legend":null}}},
    {"mark":{"type":"tick","size":9,"thickness":1.3},"encoding":{"x":{"field":"g","type":"nominal"},"y":{"field":"med","type":"quantitative"},"color":{"field":"g","type":"nominal","legend":null}}},
    {"transform":[{"fold":["min","max"],"as":["k","v"]}],"mark":{"type":"tick","size":5,"thickness":1.3},"encoding":{"x":{"field":"g","type":"nominal"},"y":{"field":"v","type":"quantitative"},"color":{"field":"g","type":"nominal","legend":null}}},
    {"mark":{"type":"rule","strokeWidth":1.2,"color":"#000"},"encoding":{"x":{"field":"g1","type":"nominal"},"x2":{"field":"g2"},"y":{"field":"y","type":"quantitative"}}},
    {"transform":[{"filter":"datum.g1"},{"fold":["g1","g2"],"as":["e","gx"]}],"mark":{"type":"rule","strokeWidth":1.2,"color":"#000"},"encoding":{"x":{"field":"gx","type":"nominal"},"y":{"field":"leg","type":"quantitative"},"y2":{"field":"y"}}},
    {"transform":[{"filter":"datum.t && !datum.mid"}],"mark":{"type":"text","fontSize":8.5,"fontWeight":"bold","baseline":"middle"},"encoding":{"x":{"field":"g2","type":"nominal","bandPosition":0},"y":{"field":"ty","type":"quantitative"},"text":{"field":"t"}}},
    {"transform":[{"filter":"datum.t && datum.mid"}],"mark":{"type":"text","fontSize":10.5,"fontWeight":"bold","baseline":"middle"},"encoding":{"x":{"field":"mid","type":"nominal"},"y":{"field":"ty","type":"quantitative"},"text":{"field":"t"}}}
   ]},

  {"width":30,"height":20,"data":{"values":[]},"mark":"text","encoding":{}},
  {"width":19,"height":20,"view":{"stroke":"#000","strokeWidth":1.5},"data":{"values":[{}]},"mark":{"type":"text","text":"D","fontSize":17,"fontWeight":"bold","font":"Liberation Sans","align":"center","baseline":"middle","dy":1},"encoding":{}},
  {"width":75,"height":20,"data":{"values":[]},"mark":"text","encoding":{}},
  {"width":31,"height":20,"data":{"values":[]},"mark":"text","encoding":{}},
  {"width":69,"height":20,"data":{"values":[]},"mark":"text","encoding":{}},
  {"width":88,"height":20,"data":{"values":[]},"mark":"text","encoding":{}},
  {"width":19,"height":20,"view":{"stroke":"#000","strokeWidth":1.5},"data":{"values":[{}]},"mark":{"type":"text","text":"E","fontSize":17,"fontWeight":"bold","font":"Liberation Sans","align":"center","baseline":"middle","dy":1},"encoding":{}},
  {"width":40,"height":20,"data":{"values":[]},"mark":"text","encoding":{}},
  {"width":29,"height":20,"data":{"values":[]},"mark":"text","encoding":{}},
  {"width":38,"height":20,"data":{"values":[]},"mark":"text","encoding":{}},
  {"width":47,"height":20,"data":{"values":[]},"mark":"text","encoding":{}},
  {"width":43,"height":20,"data":{"values":[]},"mark":"text","encoding":{}},
  {"width":28,"height":20,"data":{"values":[]},"mark":"text","encoding":{}},
  {"width":36,"height":20,"data":{"values":[]},"mark":"text","encoding":{}},
  {"width":16,"height":20,"data":{"values":[]},"mark":"text","encoding":{}},
  {"width":19,"height":20,"view":{"stroke":"#000","strokeWidth":1.5},"data":{"values":[{}]},"mark":{"type":"text","text":"F","fontSize":17,"fontWeight":"bold","font":"Liberation Sans","align":"center","baseline":"middle","dy":1},"encoding":{}},
  {"width":33,"height":20,"data":{"values":[]},"mark":"text","encoding":{}},
  {"width":34,"height":20,"data":{"values":[]},"mark":"text","encoding":{}},
  {"width":33,"height":20,"data":{"values":[]},"mark":"text","encoding":{}},

  {"width":30,"height":10,"data":{"values":[]},"mark":"text","encoding":{}},
  {"width":47,"height":10,"data":{"values":[]},"mark":"text","encoding":{}},
  {"width":75,"height":134,"data":{"name":"salS"},
   "transform":[{"fold":["Bacteroidetes","Firmicutes","Proteobacteria","Actinobacteria","Fusobacteria","Spirochaetes","Acidobacteria"],"as":["phylum","pct"]},
     {"calculate":"indexof(['Bacteroidetes','Firmicutes','Proteobacteria','Actinobacteria','Verrucomicrobia','Fusobacteria','Cyanobacteria','Euryarcheota','Acidobacteria','Chloroflexi','Lentisphaerae','GN02','Planctomycetes','Spirochaetes','Synergistetes','TM7','Tenericutes'], datum.phylum)","as":"rk"}],
   "mark":{"type":"bar","opacity":0.65},
   "encoding":{
     "x":{"field":"id","type":"nominal","scale":{"domain":["c1","c2","c3","c4","c5","c6","c7","c8","c9","c10","c11","c12","c13","c14","c15","c16","c17","c18","c19","g1","s1","s2","s3","s4","s5","s6","s7","s8","s9","s10","s11","s12","s13","s14","s15","s16","s17","s18","s19","s20","s21","s22","s23","s24","s25","g2","b1","b2","b3","b4","b5","b6","b7","b8","b9","b10","b11"],"paddingInner":0,"paddingOuter":0},
       "axis":{"title":null,"values":["c10","s13","b6"],"labelExpr":"datum.value=='c10'?'Control':datum.value=='s13'?'Spinal-Onset ALS':'Bulbar-Onset ALS'","labelFontStyle":"normal","labelFontSize":8.5,"tickSize":3,"domainWidth":1,"tickWidth":1}},
     "y":{"field":"pct","type":"quantitative","stack":"normalize","scale":{"domain":[0,1],"nice":false},
       "axis":{"values":[0,0.1,0.2,0.3,0.4,0.5,0.6,0.7,0.8,0.9,1],"format":".0%","labelFontSize":8.5,"tickSize":3,"domainWidth":1,"tickWidth":1,"labelPadding":1,"title":"Saliva","titleAngle":0,"titleAlign":"right","titleBaseline":"middle","titleFontSize":14.5,"titlePadding":8,"titleY":59}},
     "color":{"field":"phylum","type":"nominal","scale":{"domain":["Bacteroidetes","Firmicutes","Proteobacteria","Actinobacteria","Verrucomicrobia","Fusobacteria","Cyanobacteria","Euryarcheota","Acidobacteria","Chloroflexi","Lentisphaerae","GN02","Planctomycetes","Spirochaetes","Synergistetes","TM7","Tenericutes"],"range":["#0000ff","#ff0000","#000000","#ffff00","#6262ff","#0aaa0a","#ff00ff","#3cf5c0","#8a8a8a","#ffa040","#000080","#00ff00","#b8c6f4","#ff6a10","#d6d6d6","#808000","#ffd2d2"]},"legend":null},
     "order":{"field":"rk","type":"quantitative"}
   }},
  {"width":31,"height":10,"data":{"values":[]},"mark":"text","encoding":{}},
  {"width":69,"height":134,"data":{"name":"salG"},
   "transform":[{"fold":["Bacteroidetes","Firmicutes","Proteobacteria","Actinobacteria","Fusobacteria","Spirochaetes","Acidobacteria"],"as":["phylum","pct"]},
     {"calculate":"indexof(['Bacteroidetes','Firmicutes','Proteobacteria','Actinobacteria','Verrucomicrobia','Fusobacteria','Cyanobacteria','Euryarcheota','Acidobacteria','Chloroflexi','Lentisphaerae','GN02','Planctomycetes','Spirochaetes','Synergistetes','TM7','Tenericutes'], datum.phylum)","as":"rk"}],
   "mark":{"type":"bar"},
   "encoding":{
     "x":{"field":"g","type":"nominal","scale":{"domain":["Control","Spinal-Onset ALS","Bulbar-Onset ALS","ALS (Both Types)"],"paddingInner":0.25,"paddingOuter":0.02},
       "axis":{"title":null,"labelFontStyle":"normal","labelFontSize":8.5,"tickSize":3,"domainWidth":1,"tickWidth":1}},
     "y":{"field":"pct","type":"quantitative","stack":"normalize","scale":{"domain":[0,1],"nice":false},
       "axis":{"values":[0,0.1,0.2,0.3,0.4,0.5,0.6,0.7,0.8,0.9,1],"format":".0%","labelFontSize":8.5,"tickSize":3,"domainWidth":1,"tickWidth":1,"labelPadding":1,"title":null}},
     "color":{"field":"phylum","type":"nominal","scale":{"domain":["Bacteroidetes","Firmicutes","Proteobacteria","Actinobacteria","Verrucomicrobia","Fusobacteria","Cyanobacteria","Euryarcheota","Acidobacteria","Chloroflexi","Lentisphaerae","GN02","Planctomycetes","Spirochaetes","Synergistetes","TM7","Tenericutes"],"range":["#0000ff","#ff0000","#000000","#ffff00","#6262ff","#0aaa0a","#ff00ff","#3cf5c0","#8a8a8a","#ffa040","#000080","#00ff00","#b8c6f4","#ff6a10","#d6d6d6","#808000","#ffd2d2"]},
       "legend":{"orient":"right","offset":5,"padding":0,"title":null,"symbolType":"square","symbolSize":45,"symbolStrokeWidth":0,"labelFont":"Liberation Sans","labelFontSize":8,"labelFontWeight":"bold","labelColor":"#000","rowPadding":0,"labelOffset":4,"labelLimit":150}},
     "order":{"field":"rk","type":"quantitative"}
   }},
  {"width":88,"height":10,"data":{"values":[]},"mark":"text","encoding":{}},
  {"width":25,"height":10,"data":{"values":[]},"mark":"text","encoding":{}},
  {"width":40,"height":134.7,"title":{"text":"Firmicutes","dx":30,"offset":8},"data":{"name":"st"},"transform":[{"filter":"datum.p=='E1'"}],
   "layer":[
    {"mark":{"type":"rule","strokeWidth":1.3},"encoding":{
      "x":{"field":"g","type":"nominal","scale":{"domain":["Control","ALS"],"paddingInner":0,"paddingOuter":0.15},"axis":{"title":null}},
      "y":{"field":"min","type":"quantitative","scale":{"domain":[0,50],"range":[134.7,42.2],"nice":false,"zero":false},"axis":{"values":[0,20,40],"title":"Relative Abundance (%)"}},
      "y2":{"field":"max"},
      "color":{"field":"g","type":"nominal","scale":{"domain":["Control","ALS","Spinal-Onset","Bulbar-Onset"],"range":["#000000","#ff1a1a","#ff1a1a","#1a1aff"]},"legend":null}}},
    {"mark":{"type":"bar","filled":false,"fill":"#fff","size":13,"strokeWidth":1.3},"encoding":{"x":{"field":"g","type":"nominal"},"y":{"field":"q1","type":"quantitative"},"y2":{"field":"q3"},"color":{"field":"g","type":"nominal","legend":null}}},
    {"mark":{"type":"tick","size":13,"thickness":1.3},"encoding":{"x":{"field":"g","type":"nominal"},"y":{"field":"med","type":"quantitative"},"color":{"field":"g","type":"nominal","legend":null}}},
    {"transform":[{"fold":["min","max"],"as":["k","v"]}],"mark":{"type":"tick","size":6,"thickness":1.3},"encoding":{"x":{"field":"g","type":"nominal"},"y":{"field":"v","type":"quantitative"},"color":{"field":"g","type":"nominal","legend":null}}},
    {"mark":{"type":"rule","strokeWidth":1.2,"color":"#000"},"encoding":{"x":{"field":"g1","type":"nominal"},"x2":{"field":"g2"},"y":{"field":"y","type":"quantitative"}}},
    {"transform":[{"filter":"datum.g1"},{"fold":["g1","g2"],"as":["e","gx"]}],"mark":{"type":"rule","strokeWidth":1.2,"color":"#000"},"encoding":{"x":{"field":"gx","type":"nominal"},"y":{"field":"leg","type":"quantitative"},"y2":{"field":"y"}}},
    {"transform":[{"filter":"datum.t && !datum.mid"}],"mark":{"type":"text","fontSize":10.5,"fontWeight":"bold","baseline":"middle"},"encoding":{"x":{"field":"g2","type":"nominal","bandPosition":0},"y":{"field":"ty","type":"quantitative"},"text":{"field":"t"}}},
    {"transform":[{"filter":"datum.t && datum.mid"}],"mark":{"type":"text","fontSize":10.5,"fontWeight":"bold","baseline":"middle"},"encoding":{"x":{"field":"mid","type":"nominal"},"y":{"field":"ty","type":"quantitative"},"text":{"field":"t"}}}
   ]},
  {"width":29,"height":10,"data":{"values":[]},"mark":"text","encoding":{}},
  {"width":38,"height":134.7,"data":{"name":"st"},"transform":[{"filter":"datum.p=='E2'"}],
   "layer":[
    {"mark":{"type":"rule","strokeWidth":1.3},"encoding":{
      "x":{"field":"g","type":"nominal","scale":{"domain":["Control","Spinal-Onset","Bulbar-Onset"],"paddingInner":0,"paddingOuter":0.15},"axis":{"title":null}},
      "y":{"field":"min","type":"quantitative","scale":{"domain":[0,50],"range":[134.7,42.2],"nice":false,"zero":false},"axis":{"values":[0,20,40],"title":"Relative Abundance (%)"}},
      "y2":{"field":"max"},
      "color":{"field":"g","type":"nominal","scale":{"domain":["Control","ALS","Spinal-Onset","Bulbar-Onset"],"range":["#000000","#ff1a1a","#ff1a1a","#1a1aff"]},"legend":null}}},
    {"mark":{"type":"bar","filled":false,"fill":"#fff","size":9,"strokeWidth":1.3},"encoding":{"x":{"field":"g","type":"nominal"},"y":{"field":"q1","type":"quantitative"},"y2":{"field":"q3"},"color":{"field":"g","type":"nominal","legend":null}}},
    {"mark":{"type":"tick","size":9,"thickness":1.3},"encoding":{"x":{"field":"g","type":"nominal"},"y":{"field":"med","type":"quantitative"},"color":{"field":"g","type":"nominal","legend":null}}},
    {"transform":[{"fold":["min","max"],"as":["k","v"]}],"mark":{"type":"tick","size":5,"thickness":1.3},"encoding":{"x":{"field":"g","type":"nominal"},"y":{"field":"v","type":"quantitative"},"color":{"field":"g","type":"nominal","legend":null}}},
    {"mark":{"type":"rule","strokeWidth":1.2,"color":"#000"},"encoding":{"x":{"field":"g1","type":"nominal"},"x2":{"field":"g2"},"y":{"field":"y","type":"quantitative"}}},
    {"transform":[{"filter":"datum.g1"},{"fold":["g1","g2"],"as":["e","gx"]}],"mark":{"type":"rule","strokeWidth":1.2,"color":"#000"},"encoding":{"x":{"field":"gx","type":"nominal"},"y":{"field":"leg","type":"quantitative"},"y2":{"field":"y"}}},
    {"transform":[{"filter":"datum.t && !datum.mid"}],"mark":{"type":"text","fontSize":10.5,"fontWeight":"bold","baseline":"middle"},"encoding":{"x":{"field":"g2","type":"nominal","bandPosition":0},"y":{"field":"ty","type":"quantitative"},"text":{"field":"t"}}},
    {"transform":[{"filter":"datum.t && datum.mid"}],"mark":{"type":"text","fontSize":10.5,"fontWeight":"bold","baseline":"middle"},"encoding":{"x":{"field":"mid","type":"nominal"},"y":{"field":"ty","type":"quantitative"},"text":{"field":"t"}}}
   ]},
  {"width":47,"height":10,"data":{"values":[]},"mark":"text","encoding":{}},
  {"width":43,"height":133.3,"title":{"text":"Bacteroidetes","dx":32,"offset":7},"data":{"name":"st"},"transform":[{"filter":"datum.p=='E3'"}],
   "layer":[
    {"mark":{"type":"rule","strokeWidth":1.3},"encoding":{
      "x":{"field":"g","type":"nominal","scale":{"domain":["Control","ALS"],"paddingInner":0,"paddingOuter":0.2},"axis":{"title":null}},
      "y":{"field":"min","type":"quantitative","scale":{"domain":[0,75],"range":[133.3,44],"nice":false,"zero":false},"axis":{"values":[0,20,40,60],"title":"Relative Abundance (%)"}},
      "y2":{"field":"max"},
      "color":{"field":"g","type":"nominal","scale":{"domain":["Control","ALS","Spinal-Onset","Bulbar-Onset"],"range":["#000000","#ff1a1a","#ff1a1a","#1a1aff"]},"legend":null}}},
    {"mark":{"type":"bar","filled":false,"fill":"#fff","size":13,"strokeWidth":1.3},"encoding":{"x":{"field":"g","type":"nominal"},"y":{"field":"q1","type":"quantitative"},"y2":{"field":"q3"},"color":{"field":"g","type":"nominal","legend":null}}},
    {"mark":{"type":"tick","size":13,"thickness":1.3},"encoding":{"x":{"field":"g","type":"nominal"},"y":{"field":"med","type":"quantitative"},"color":{"field":"g","type":"nominal","legend":null}}},
    {"transform":[{"fold":["min","max"],"as":["k","v"]}],"mark":{"type":"tick","size":6,"thickness":1.3},"encoding":{"x":{"field":"g","type":"nominal"},"y":{"field":"v","type":"quantitative"},"color":{"field":"g","type":"nominal","legend":null}}},
    {"mark":{"type":"rule","strokeWidth":1.2,"color":"#000"},"encoding":{"x":{"field":"g1","type":"nominal"},"x2":{"field":"g2"},"y":{"field":"y","type":"quantitative"}}},
    {"transform":[{"filter":"datum.g1"},{"fold":["g1","g2"],"as":["e","gx"]}],"mark":{"type":"rule","strokeWidth":1.2,"color":"#000"},"encoding":{"x":{"field":"gx","type":"nominal"},"y":{"field":"leg","type":"quantitative"},"y2":{"field":"y"}}},
    {"transform":[{"filter":"datum.t && !datum.mid"}],"mark":{"type":"text","fontSize":10.5,"fontWeight":"bold","baseline":"middle"},"encoding":{"x":{"field":"g2","type":"nominal","bandPosition":0},"y":{"field":"ty","type":"quantitative"},"text":{"field":"t"}}},
    {"transform":[{"filter":"datum.t && datum.mid"}],"mark":{"type":"text","fontSize":10.5,"fontWeight":"bold","baseline":"middle"},"encoding":{"x":{"field":"mid","type":"nominal"},"y":{"field":"ty","type":"quantitative"},"text":{"field":"t"}}}
   ]},
  {"width":28,"height":10,"data":{"values":[]},"mark":"text","encoding":{}},
  {"width":36,"height":136.7,"data":{"name":"st"},"transform":[{"filter":"datum.p=='E4'"}],
   "layer":[
    {"mark":{"type":"rule","strokeWidth":1.3},"encoding":{
      "x":{"field":"g","type":"nominal","scale":{"domain":["Control","Spinal-Onset","Bulbar-Onset"],"paddingInner":0,"paddingOuter":0.1},"axis":{"title":null}},
      "y":{"field":"min","type":"quantitative","scale":{"domain":[0,75],"range":[136.7,45],"nice":false,"zero":false},"axis":{"values":[0,20,40,60],"title":"Relative Abundance (%)"}},
      "y2":{"field":"max"},
      "color":{"field":"g","type":"nominal","scale":{"domain":["Control","ALS","Spinal-Onset","Bulbar-Onset"],"range":["#000000","#ff1a1a","#ff1a1a","#1a1aff"]},"legend":null}}},
    {"mark":{"type":"bar","filled":false,"fill":"#fff","size":9,"strokeWidth":1.3},"encoding":{"x":{"field":"g","type":"nominal"},"y":{"field":"q1","type":"quantitative"},"y2":{"field":"q3"},"color":{"field":"g","type":"nominal","legend":null}}},
    {"mark":{"type":"tick","size":9,"thickness":1.3},"encoding":{"x":{"field":"g","type":"nominal"},"y":{"field":"med","type":"quantitative"},"color":{"field":"g","type":"nominal","legend":null}}},
    {"transform":[{"fold":["min","max"],"as":["k","v"]}],"mark":{"type":"tick","size":5,"thickness":1.3},"encoding":{"x":{"field":"g","type":"nominal"},"y":{"field":"v","type":"quantitative"},"color":{"field":"g","type":"nominal","legend":null}}},
    {"mark":{"type":"rule","strokeWidth":1.2,"color":"#000"},"encoding":{"x":{"field":"g1","type":"nominal"},"x2":{"field":"g2"},"y":{"field":"y","type":"quantitative"}}},
    {"transform":[{"filter":"datum.g1"},{"fold":["g1","g2"],"as":["e","gx"]}],"mark":{"type":"rule","strokeWidth":1.2,"color":"#000"},"encoding":{"x":{"field":"gx","type":"nominal"},"y":{"field":"leg","type":"quantitative"},"y2":{"field":"y"}}},
    {"transform":[{"filter":"datum.t && !datum.mid"}],"mark":{"type":"text","fontSize":10,"fontWeight":"bold","baseline":"middle"},"encoding":{"x":{"field":"g2","type":"nominal","bandPosition":0},"y":{"field":"ty","type":"quantitative"},"text":{"field":"t"}}},
    {"transform":[{"filter":"datum.t && datum.mid"}],"mark":{"type":"text","fontSize":10.5,"fontWeight":"bold","baseline":"middle"},"encoding":{"x":{"field":"mid","type":"nominal"},"y":{"field":"ty","type":"quantitative"},"text":{"field":"t"}}}
   ]},
  {"width":16,"height":10,"data":{"values":[]},"mark":"text","encoding":{}},
  {"width":28,"height":10,"data":{"values":[]},"mark":"text","encoding":{}},
  {"width":33,"height":138,"data":{"name":"st"},"transform":[{"filter":"datum.p=='F1'"}],
   "layer":[
    {"mark":{"type":"rule","strokeWidth":1.3},"encoding":{
      "x":{"field":"g","type":"nominal","scale":{"domain":["Control","ALS"],"paddingInner":0,"paddingOuter":0.15},"axis":{"title":null}},
      "y":{"field":"min","type":"quantitative","scale":{"domain":[0,1.8],"range":[138,39],"nice":false,"zero":false},"axis":{"values":[0,0.5,1,1.5],"format":".1f","title":"F/B Ratio","titleFontSize":11}},
      "y2":{"field":"max"},
      "color":{"field":"g","type":"nominal","scale":{"domain":["Control","ALS","Spinal-Onset","Bulbar-Onset"],"range":["#000000","#ff1a1a","#ff1a1a","#1a1aff"]},"legend":null}}},
    {"mark":{"type":"bar","filled":false,"fill":"#fff","size":12,"strokeWidth":1.3},"encoding":{"x":{"field":"g","type":"nominal"},"y":{"field":"q1","type":"quantitative"},"y2":{"field":"q3"},"color":{"field":"g","type":"nominal","legend":null}}},
    {"mark":{"type":"tick","size":12,"thickness":1.3},"encoding":{"x":{"field":"g","type":"nominal"},"y":{"field":"med","type":"quantitative"},"color":{"field":"g","type":"nominal","legend":null}}},
    {"transform":[{"fold":["min","max"],"as":["k","v"]}],"mark":{"type":"tick","size":6,"thickness":1.3},"encoding":{"x":{"field":"g","type":"nominal"},"y":{"field":"v","type":"quantitative"},"color":{"field":"g","type":"nominal","legend":null}}},
    {"mark":{"type":"rule","strokeWidth":1.2,"color":"#000"},"encoding":{"x":{"field":"g1","type":"nominal"},"x2":{"field":"g2"},"y":{"field":"y","type":"quantitative"}}},
    {"transform":[{"filter":"datum.g1"},{"fold":["g1","g2"],"as":["e","gx"]}],"mark":{"type":"rule","strokeWidth":1.2,"color":"#000"},"encoding":{"x":{"field":"gx","type":"nominal"},"y":{"field":"leg","type":"quantitative"},"y2":{"field":"y"}}},
    {"transform":[{"filter":"datum.t && !datum.mid"}],"mark":{"type":"text","fontSize":10.5,"fontWeight":"bold","baseline":"middle"},"encoding":{"x":{"field":"g2","type":"nominal","bandPosition":0},"y":{"field":"ty","type":"quantitative"},"text":{"field":"t"}}},
    {"transform":[{"filter":"datum.t && datum.mid"}],"mark":{"type":"text","fontSize":10.5,"fontWeight":"bold","baseline":"middle"},"encoding":{"x":{"field":"mid","type":"nominal"},"y":{"field":"ty","type":"quantitative"},"text":{"field":"t"}}}
   ]},
  {"width":34,"height":10,"data":{"values":[]},"mark":"text","encoding":{}},
  {"width":33,"height":138,"data":{"name":"st"},"transform":[{"filter":"datum.p=='F2'"}],
   "layer":[
    {"mark":{"type":"rule","strokeWidth":1.3},"encoding":{
      "x":{"field":"g","type":"nominal","scale":{"domain":["Control","Spinal-Onset","Bulbar-Onset"],"paddingInner":0,"paddingOuter":0},"axis":{"title":null}},
      "y":{"field":"min","type":"quantitative","scale":{"domain":[0,1.8],"range":[138,39],"nice":false,"zero":false},"axis":{"values":[0,0.5,1,1.5],"format":".1f","title":"F/B Ratio","titleFontSize":11}},
      "y2":{"field":"max"},
      "color":{"field":"g","type":"nominal","scale":{"domain":["Control","ALS","Spinal-Onset","Bulbar-Onset"],"range":["#000000","#ff1a1a","#ff1a1a","#1a1aff"]},"legend":null}}},
    {"mark":{"type":"bar","filled":false,"fill":"#fff","size":9,"strokeWidth":1.3},"encoding":{"x":{"field":"g","type":"nominal"},"y":{"field":"q1","type":"quantitative"},"y2":{"field":"q3"},"color":{"field":"g","type":"nominal","legend":null}}},
    {"mark":{"type":"tick","size":9,"thickness":1.3},"encoding":{"x":{"field":"g","type":"nominal"},"y":{"field":"med","type":"quantitative"},"color":{"field":"g","type":"nominal","legend":null}}},
    {"transform":[{"fold":["min","max"],"as":["k","v"]}],"mark":{"type":"tick","size":5,"thickness":1.3},"encoding":{"x":{"field":"g","type":"nominal"},"y":{"field":"v","type":"quantitative"},"color":{"field":"g","type":"nominal","legend":null}}},
    {"mark":{"type":"rule","strokeWidth":1.2,"color":"#000"},"encoding":{"x":{"field":"g1","type":"nominal"},"x2":{"field":"g2"},"y":{"field":"y","type":"quantitative"}}},
    {"transform":[{"filter":"datum.g1"},{"fold":["g1","g2"],"as":["e","gx"]}],"mark":{"type":"rule","strokeWidth":1.2,"color":"#000"},"encoding":{"x":{"field":"gx","type":"nominal"},"y":{"field":"leg","type":"quantitative"},"y2":{"field":"y"}}},
    {"transform":[{"filter":"datum.t && !datum.mid"}],"mark":{"type":"text","fontSize":9.5,"fontWeight":"bold","baseline":"middle"},"encoding":{"x":{"field":"g2","type":"nominal","bandPosition":0},"y":{"field":"ty","type":"quantitative"},"text":{"field":"t"}}},
    {"transform":[{"filter":"datum.t && datum.mid"}],"mark":{"type":"text","fontSize":10.5,"fontWeight":"bold","baseline":"middle"},"encoding":{"x":{"field":"mid","type":"nominal"},"y":{"field":"ty","type":"quantitative"},"text":{"field":"t"}}}
   ]}
]
}
